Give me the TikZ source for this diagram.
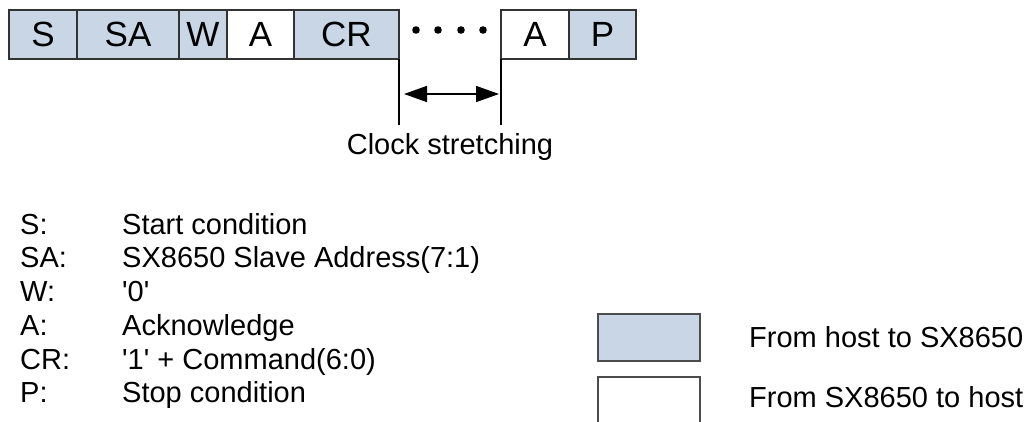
\documentclass[tikz,border=0pt]{standalone}
\usepackage{fontspec}
\newfontfamily\labelfont{Liberation Sans}
\usetikzlibrary{arrows.meta,positioning}
\definecolor{hostblue}{RGB}{201,214,229}
\tikzset{
    field/.style={draw=black!80, line width=1.3pt, outer sep=0pt, inner sep=0pt,
        minimum height=49pt, font=\labelfont\fontsize{35}{40}\selectfont},
    hostfield/.style={field, fill=hostblue},
    slavefield/.style={field, fill=white},
    keybox/.style={draw=black!70, line width=1.3pt, inner sep=0pt,
        minimum width=102pt, minimum height=47pt},
    legendtext/.style={anchor=base west, inner sep=0pt,
        font=\labelfont\fontsize{29}{34}\selectfont}
}
\begin{document}
\begin{tikzpicture}[x=1pt, y=-1pt]
    % 1. Picture area
    \useasboundingbox (0,0) rectangle (1024,422);
    \clip (0,0) rectangle (1024,422);

    % 2. Frame fields
    \node[hostfield, minimum width=68pt, anchor=west] (s) at (9,34.5) {S};
    \node[hostfield, minimum width=102pt, right=0pt of s] (sa) {SA};
    \node[hostfield, minimum width=48pt, right=0pt of sa] (w) {W};
    \node[slavefield, minimum width=67pt, right=0pt of w] (a1) {A};
    \node[hostfield, minimum width=105pt, right=0pt of a1] (cr) {CR};
    \node[slavefield, minimum width=68pt, right=102pt of cr] (a2) {A};
    \node[hostfield, minimum width=67pt, right=0pt of a2] (p) {P};

    % 3. Dots between the fields
    \foreach \dx in {416,438,461,483}
        \fill (\dx,30) circle (3.8pt);

    % 4. Clock stretching marker
    \coordinate (lbot) at ([yshift=-66pt]cr.south east);
    \coordinate (rbot) at ([yshift=-66pt]a2.south west);
    \draw[line width=1.3pt] (cr.south east) -- (lbot);
    \draw[line width=1.3pt] (a2.south west) -- (rbot);
    \coordinate (larr) at ([xshift=5pt, yshift=-35pt]cr.south east);
    \coordinate (rarr) at ([xshift=-2pt, yshift=-35pt]a2.south west);
    \draw[{Triangle[length=23pt,width=16pt]}-{Triangle[length=23pt,width=16pt]}, line width=1.5pt]
        (larr) -- (rarr);
    \node[inner sep=0pt, font=\labelfont\fontsize{29}{34}\selectfont] (stretch) at (450,147) {Clock stretching};

    % 5. Abbreviations
    \foreach \key/\desc [count=\i] in {S/Start condition, SA/SX8650 Slave Address(7:1), W/'0',
        A/Acknowledge, CR/'1' + Command(6:0), P/Stop condition} {
        \node[legendtext] (key\i) at (20, {234+33.75*(\i-1)}) {\key:};
        \node[legendtext] (desc\i) at (122, {234+33.75*(\i-1)}) {\desc};
    }

    % 6. Direction key
    \node[keybox, fill=hostblue] (hostkey) at (649,337.5) {};
    \node[keybox, fill=white] (slavekey) at (649,400.5) {};
    \node[legendtext] (hosttxt) at (749,347) {From host to SX8650};
    \node[legendtext] (slavetxt) at (749,407) {From SX8650 to host};
\end{tikzpicture}
\end{document}
